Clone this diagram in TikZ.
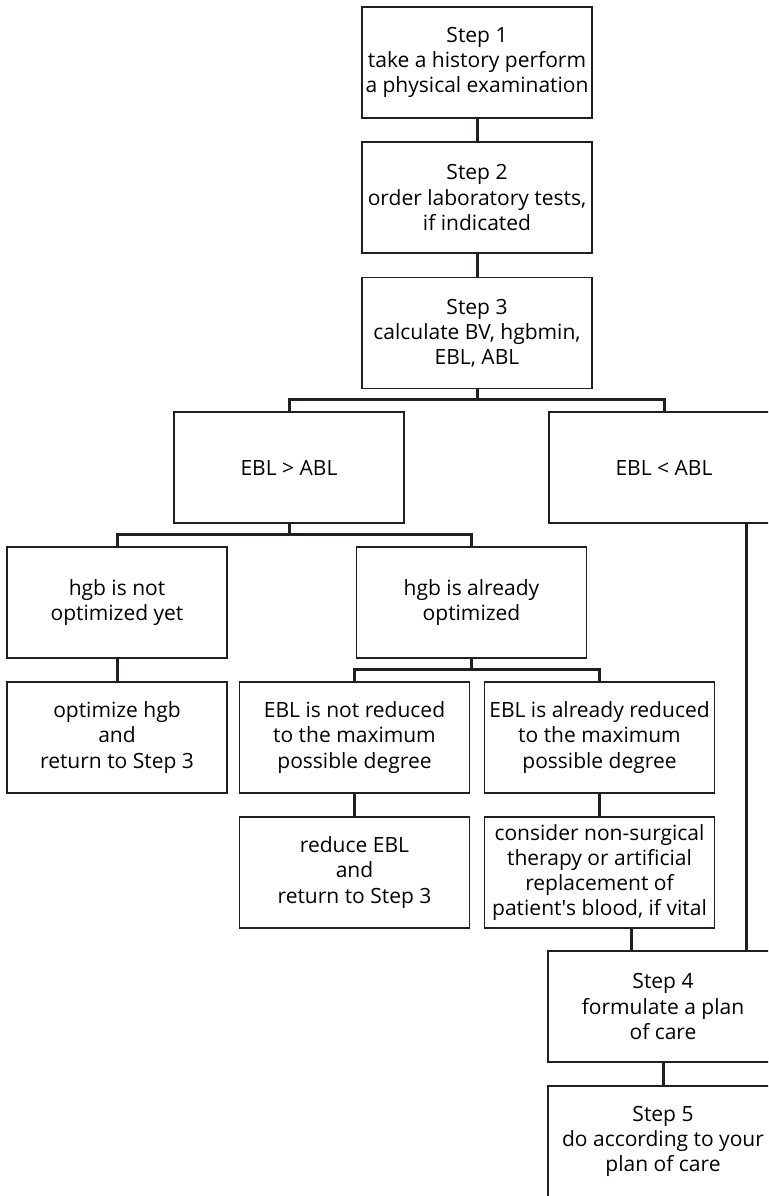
\documentclass[tikz,border=0pt]{standalone}
\usepackage{fontspec}
\setmainfont{Open Sans}
\definecolor{ink}{HTML}{231F20}

\begin{document}
\begin{tikzpicture}[x=0.5pt, y=-0.5pt,
    box/.style={draw=ink, line width=0.7pt, fill=white, align=center,
      minimum width=115pt, minimum height=55.5pt, inner sep=1pt,
      font=\fontsize{10.5}{12.6}\selectfont},
    narrowbox/.style={box, minimum width=110pt},
    link/.style={draw=ink, line width=1.5pt}]
            \useasboundingbox (0,0) rectangle (768,1196);
            \clip (0,0) rectangle (768,1196);
            \node[box] (s1) at (477, 62.5) {Step 1\\take a history perform\\a physical examination};
            \node[box] (s2) at (477, 197.5) {Step 2\\order laboratory tests,\\if indicated};
            \draw[link] (s1) to (s2);
            \node[box] (s3) at (477, 333) {Step 3\\calculate BV, hgbmin,\\EBL, ABL};
            \draw[link] (s2) to (s3);
            \node[box] (gt) at (289, 467.5) {EBL > ABL};
            \node[box] (lt) at (664, 467.5) {EBL < ABL};
            \coordinate (j1) at (477, 399);
            \draw[link] (s3) -- (j1);
            \draw[link] (gt) |- (j1) -| (lt);
            \node[narrowbox] (nopt) at (117, 602.5) {hgb is not\\optimized yet};
            \node[box] (opt) at (471.5, 602.5) {hgb is already\\optimized};
            \coordinate (j2) at (289, 534);
            \draw[link] (gt) -- (j2);
            \draw[link] (nopt) |- (j2) -| (opt);
            \node[narrowbox] (hopt) at (117, 737.5) {optimize hgb\\and\\return to Step 3};
            \draw[link] (nopt) to (hopt);
            \node[box] (nred) at (354.5, 737.5) {EBL is not reduced\\to the maximum\\possible degree};
            \node[box] (red) at (599.5, 737.5) {EBL is already reduced\\to the maximum\\possible degree};
            \coordinate (j3) at (471.5, 669);
            \draw[link] (opt) -- (j3);
            \draw[link] (nred) |- (j3) -| (red);
            \node[box] (redu) at (354.5, 872.5) {reduce EBL\\and\\return to Step 3};
            \draw[link] (nred) to (redu);
            \node[box] (cons) at (599.5, 872.5) {consider non-surgical\\therapy or artificial\\replacement of\\patient\textquotesingle s blood, if vital};
            \draw[link] (red) to (cons);
            \node[box] (s4) at (663, 1006.5) {Step 4\\formulate a plan\\of care};
            \coordinate (k1) at (631, 940);
            \coordinate (k2) at (746, 700);
            \draw[link] (cons.south -| k1) -- (s4.north -| k1);
            \draw[link] (lt.south -| k2) -- (s4.north -| k2);
            \node[box] (s5) at (663, 1141.5) {Step 5\\do according to your\\plan of care};
            \draw[link] (s4) to (s5);
        \end{tikzpicture}
\end{document}
